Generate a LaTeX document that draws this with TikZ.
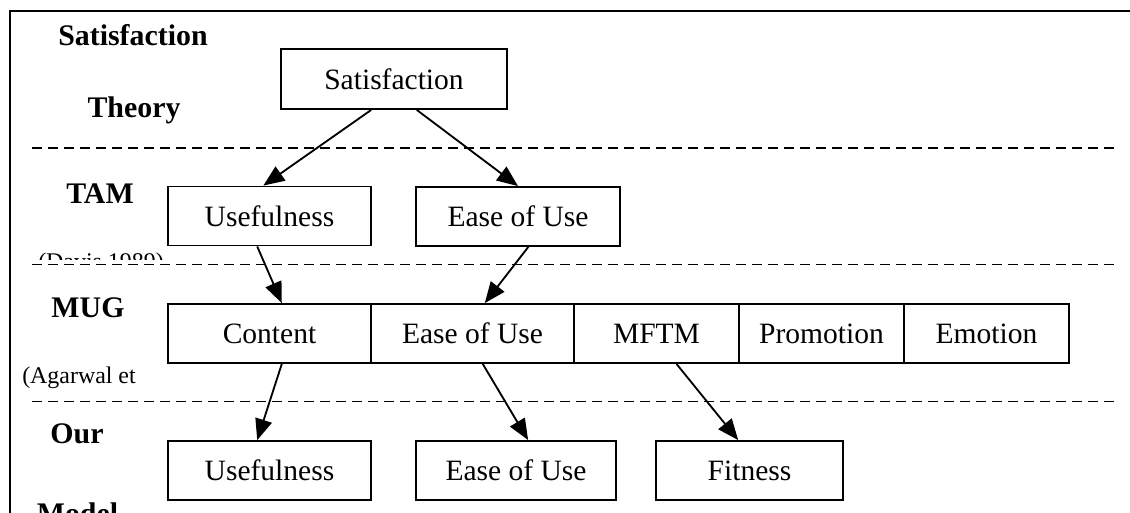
\documentclass[tikz,border=0pt]{standalone}
\usepackage{fontspec}
\setmainfont{Liberation Serif}
\usepackage{tikz}
\usetikzlibrary{calc, arrows.meta}

\begin{document}
\begin{tikzpicture}[>={Triangle[length=0.42cm,width=0.34cm]}, line width=1.05pt,
            box/.style={draw, minimum height=1.18cm, inner sep=0pt, font=\fontsize{16.8}{20}\selectfont},
            lbl/.style={anchor=base, font=\fontsize{17}{20}\selectfont\bfseries},
            sub/.style={anchor=base, font=\fontsize{13.6}{16}\selectfont},
            sep/.style={dash pattern=on 0.2cm off 0.12cm}]
            \useasboundingbox (0,0) rectangle (22.6,-10.24);
            \clip (0,0) rectangle (22.6,-10.24);
            \draw[line width=1.2pt] (0.2,-0.22) rectangle (23,-11);
            
            \node[lbl] (t1) at (2.66,-0.90) {Satisfaction};
            \node[lbl] (t2) at (2.68,-2.34) {Theory};
            \node[lbl] (t3) at (2.0,-4.06) {TAM};
            \begin{scope}
                \clip (0,0) rectangle (8,-5.18);
                \node[sub] (t4) at (2.02,-5.38) {(Davis 1989)};
            \end{scope}
            \node[lbl] (t5) at (1.76,-6.34) {MUG};
            \node[sub] (t6) at (1.58,-7.66) {(Agarwal et};
            \node[lbl] (t7) at (1.54,-8.86) {Our};
            \node[lbl] (t8) at (1.55,-10.46) {Model};
            
            \draw[sep] (0.64,-2.96) -- (22.3,-2.96);
            \draw[sep] (0.64,-5.29) -- (22.3,-5.29);
            \draw[sep] (0.64,-8.03) -- (22.3,-8.03);
            
            \node[box, minimum width=4.52cm, minimum height=1.2cm] (s1) at (7.88,-1.58) {Satisfaction};
            
            \node[box, minimum width=4.06cm] (a1) at (5.39,-4.32) {Usefulness};
            \node[box, minimum width=4.08cm] (a2) at (10.36,-4.33) {Ease of Use};
            
            \node[box, minimum width=4.06cm] (m1) at (5.39,-6.67) {Content};
            \node[box, minimum width=4.06cm] (m2) at (9.45,-6.67) {Ease of Use};
            \node[box, minimum width=3.3cm] (m3) at (13.13,-6.67) {MFTM};
            \node[box, minimum width=3.3cm] (m4) at (16.43,-6.67) {Promotion};
            \node[box, minimum width=3.3cm] (m5) at (19.73,-6.67) {Emotion};
            
            \node[box, minimum width=4.06cm] (o1) at (5.39,-9.41) {Usefulness};
            \node[box, minimum width=4.0cm] (o2) at (10.32,-9.41) {Ease of Use};
            \node[box, minimum width=3.74cm] (o3) at (14.99,-9.41) {Fitness};
            
            \draw[->] ($(s1.south west)!0.4!(s1.south east)$) -- ($(a1.north west)!0.47!(a1.north east)$);
            \draw[->] ($(s1.south west)!0.6!(s1.south east)$) -- (a2.north);
            \draw[->] ($(a1.south west)!0.44!(a1.south east)$) -- ($(m1.north west)!0.56!(m1.north east)$);
            \draw[->] ($(a2.south west)!0.55!(a2.south east)$) -- ($(m2.north west)!0.56!(m2.north east)$);
            \draw[->] ($(m1.south west)!0.56!(m1.south east)$) -- ($(o1.north west)!0.44!(o1.north east)$);
            \draw[->] ($(m2.south west)!0.55!(m2.south east)$) -- ($(o2.north west)!0.56!(o2.north east)$);
            \draw[->] ($(m3.south west)!0.62!(m3.south east)$) -- ($(o3.north west)!0.44!(o3.north east)$);
        \end{tikzpicture}
\end{document}
